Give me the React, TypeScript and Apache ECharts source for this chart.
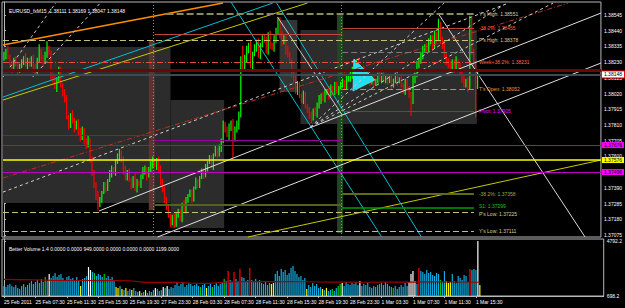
import React, { useEffect, useRef } from 'react';
import * as echarts from 'echarts';

const FONT = "'Liberation Sans', Arial, sans-serif";

// ---- price data (pips above BASE_PRICE) ----
const BASE_PRICE = 1.37;
const PIP = 0.0001;
const FIRST_OPEN = 126;
const CLOSE = [
  128,131,126,123,119,124,122,118,120,
  123,126,121,124,122,126,119,116,
  124,131,126,123,128,132,
  130,114,111,106,
  112,118,108,103,98,
  86,81,88,84,79,83,76,
  72,78,70,68,71,
  58,50,41,34,28,
  31,36,41,39,44,
  48,52,50,56,59,
  63,58,51,46,
  50,44,41,46,39,43,
  41,46,50,52,47,51,
  54,56,54,58,52,
  44,38,32,26,21,
  16,19,14,21,
  23,19,28,24,31,
  34,36,32,39,43,
  41,46,50,48,52,
  56,59,54,61,64,
  61,66,71,81,78,
  74,79,83,72,78,
  81,88,124,119,
  126,131,134,121,128,
  132,136,128,134,139,
  138,131,141,134,132,
  138,144,151,141,
  136,139,131,128,124,
  116,111,104,108,101,
  98,101,94,91,88,
  86,91,88,94,98,
  101,98,103,104,101,
  106,103,108,104,106,
  108,110,107,111,112,
  114,118,121,123,119,
  116,118,114,111,114,
  110,112,108,111,114,
  112,115,111,113,110,
  112,108,111,114,110,
  112,108,104,110,106,
  101,98,111,114,121,
  124,128,131,134,132,
  136,139,134,141,138,
  148,138,134,128,124,
  121,118,123,119,124,
  121,116,112,108,111,
  106,150,130,122,111,115,
];
const UP_WICK = [
  2,1,3,2,1,2,3,1,2,2, 1,3,2,2,1,2,3,2,4,1, 2,2,5,2,1,2,3,1,2,2, 1,2,3,2,1,3,2,1,2,3,
  2,1,2,3,1,2,1,2,3,2, 1,2,2,1,3,2,1,2,3,2, 1,2,3,1,2,2,1,3,2,1, 2,3,2,1,2,3,4,2,1,2,
  2,1,2,1,2,1,2,3,1,2, 2,1,3,2,1,2,2,1,3,2, 1,2,2,3,1,2,2,1,3,2, 2,1,3,2,2,3,1,2,2,3,
  2,3,10,2,3,2,4,2,3,2, 3,2,2,3,2,2,3,2,3,2, 2,2,3,2,2,3,2,1,2,3, 2,2,1,3,2,1,2,2,1,2,
  2,3,1,2,2,1,3,2,1,2, 2,1,2,2,1,3,2,3,2,4, 2,3,2,1,2,3,2,1,2,2, 1,2,3,1,2,2,1,2,3,1,
  2,2,1,3,1,2,2,1,2,3, 2,3,2,2,3,1,2,3,2,2, 3,2,4,2,2,3,1,2,3,2, 2,3,1,2,2,3,1,2,4,3,
  2,2,2,
];
const DN_WICK = [
  2,3,1,2,3,1,2,3,2,1, 2,1,3,2,2,3,1,2,1,2, 3,1,2,2,3,2,1,3,2,2, 3,2,1,3,2,2,3,1,2,2,
  1,2,3,2,2,3,2,3,4,2, 2,1,3,2,1,2,2,3,1,2, 2,3,2,2,1,3,2,2,3,1, 2,1,2,3,1,2,2,1,3,2,
  3,2,3,2,2,3,2,2,1,2, 2,3,1,2,2,1,3,2,1,2, 2,1,3,2,2,1,2,3,1,2, 1,3,2,2,1,3,2,13,2,2,
  3,2,2,1,3,2,2,3,1,2, 2,3,1,2,2,3,2,1,2,2, 3,2,2,1,3,2,2,3,2,2, 3,2,2,3,2,2,3,4,2,1,
  2,2,3,1,2,2,3,1,2,2, 2,3,1,2,2,2,1,2,2,3, 2,1,3,2,2,1,2,3,2,2, 1,2,2,3,1,2,2,1,3,2,
  2,3,1,2,2,3,2,2,11,3, 2,1,2,2,3,1,2,2,1,3, 2,2,1,3,2,2,3,2,1,2, 3,2,2,1,3,2,2,3,1,2,
  2,25,6,
];

// ---- volume data ----
const VOLUME = [
  870,785,955,1040,880,790,960,700,615,870,1050,780,960,1130,
  1300,1045,1220,1390,1135,
  1480,1215,1655,
  1310,1915,
  1565,1740,2005,1650,1830,1915,1570,
  1390,1650,1745,1480,1560,1305,1655,1395,
  870,1475,1570,1740,
  2525,2260,2090,
  2000,1740,1915,
  1830,1650,1920,1565,1745,
  1480,1650,1305,
  780,700,870,610,
  520,700,435,610,520,700,435,
  350,435,260,350,520,260,435,350,
  520,700,610,435,520,
  785,700,870,610,785,700,
  960,1130,870,1045,1220,785,960,1130,1045,870,960,
  1045,870,785,960,1130,700,870,1045,785,960,
  1130,870,1045,1220,
  1480,1305,
  2175,1390,1220,2090,
  1480,1305,
  2350,1650,1565,
  1220,1390,
  2435,
  1390,1305,1480,1220,1390,1130,1045,1220,960,1130,
  1045,1130,
  1915,2175,1740,2350,2090,2260,1830,2000,2435,2610,2175,1915,1650,1740,
  1390,1565,610,
  960,785,1130,870,1045,700,
  785,610,520,700,435,520,
  610,435,700,870,1045,
  1130,870,1220,1045,960,
  1130,1045,1220,960,1305,
  870,1045,960,1130,785,700,870,785,960,1045,1130,960,1220,1045,870,
  785,700,870,610,785,
  960,785,1130,870,1220,
  1915,2175,1305,
  1045,
  2435,
  2175,2090,1915,2260,2000,2090,1830,1740,2000,1915,
  1390,1220,2175,1305,1130,
  1220,1915,1305,1130,1740,
  1565,1390,1830,1740,1220,
  2350,2260,2350,2260,4792,949,
];
const VOLUME_TYPE =
  'bbbbbbbbbbbbbb' + 'bbbbb' + 'bbg' + 'bw' + 'bbbbbbb' + 'bbbbbbbb' + 'ybbb' + 'wwb' + 'gbb' +
  'bbgbb' + 'bbb' + 'yyby' + 'bybbybb' + 'bybbybbb' + 'bwbbb' + 'wbwbbb' + 'bbbbbbbbbbb' +
  'bbgbbybbgb' + 'bbbb' + 'gb' + 'rbbr' + 'bb' + 'rbb' + 'bb' + 'r' + 'bbbbbbbbbb' + 'yy' +
  'bbbbbbbbbbbbbb' + 'bby' + 'bbbbbb' + 'bybybb' + 'gbbgg' + 'wbbbb' + 'bbbbw' +
  'bbbbbbbbbbbbbbb' + 'bgbbb' + 'bbbbw' + 'www' + 'b' + 'r' + 'bbbbbbbbbb' + 'gbbyy' +
  'ybbbb' + 'bbbbb' + 'rbbbwy';
const VOL_MA_BARS = [0,8,16,24,32,40,48,56,64,72,80,88,96,104,112,120,128,136,144,152,160,168,176,184,192,200,208,216,224,232,240,242];
const VOL_MA = [1450,1430,1400,1370,1350,1350,1345,1340,1330,1190,1185,1180,1110,1105,1200,1245,1250,1245,1250,1240,1220,1210,1205,1200,1210,1215,1210,1230,1235,1220,1200,1199];

// ---- axes ----
const SLOT_MIN = -1;
const SLOT_MAX = 305;
const PRICE_MIN = 1.37062;
const PRICE_MAX = 1.38632;
const PRICE_TICKS = [1.38545,1.3844,1.38335,1.3823,1.38125,1.3802,1.37915,1.3781,1.37705,1.376,1.37495,1.3739,1.37285,1.3718,1.37075];
const VOL_MAX = 4966;
const VOL_TICKS = [4792.2, 0];
const VOL_TICK_TEXT = ['4792.2', '698.2'];
const TIME_STEP = 16;
const TIME_LABELS = ['25 Feb 2011','25 Feb 07:30','25 Feb 11:30','25 Feb 15:30','25 Feb 19:30','27 Feb 23:30','28 Feb 03:30','28 Feb 07:30','28 Feb 11:30','28 Feb 15:30','28 Feb 19:30','28 Feb 23:30','1 Mar 03:30','1 Mar 07:30','1 Mar 11:30','1 Mar 15:30'];

// ---- chart objects (bar index, price) ----
const ZONES: Array<[number, number, number, number]> = [
  [-0.5, 1.38331, 85.1, 1.37289],
  [85.1, 1.37977, 112.5, 1.37122],
  [140.8, 1.38511, 149.9, 1.3803],
  [151.5, 1.38445, 241.6, 1.37817],
  [74, 1.38378, 77, 1.37242],
  [170.2, 1.38545, 173.3, 1.37089],
];
const ZONE_COLORS = ['#2c2c2c', '#2c2c2c', '#343434', '#2c2c2c', '#5c3530', '#1f4a1f'];

const LEVELS: Array<[number, number, number, string]> = [
  [1.38551, 83.1, 240.1, "Y's High: 1.38551"],
  [1.38418, 77, 172.8, ''],
  [1.38455, 172.8, 240.1, '-38.2%: 1.38455'],
  [1.38378, -0.5, 240.1, "P's High: 1.38378"],
  [1.38231, -0.5, 240.1, 'Week+38.2%: 1.38231'],
  [1.38298, 172.8, 240.1, ''],
  [1.38177, -0.5, 305, ''],
  [1.38148, -0.5, 305, '1.38148'],
  [1.38052, 172.8, 240.1, "T's Open: 1.38052"],
  [1.37905, 172.8, 240.1, 'Pivot: 1.37905'],
  [1.37743, -0.5, 77, ''],
  [1.3771, 77, 172.8, ''],
  [1.37676, -0.5, 305, '1.37676'],
  [1.37576, -0.5, 305, '1.37576'],
  [1.37496, -0.5, 305, '1.37496'],
  [1.37349, 172.8, 240.1, '-38.2%: 1.37358'],
  [1.37276, 77, 172.8, ''],
  [1.37256, 172.8, 240.1, 'S1: 1.37299'],
  [1.37229, -0.5, 240.1, "P's Low: 1.37225"],
  [1.37102, -0.5, 240.1, "Y's Low: 1.37111"],
];
const LEVEL_STYLES: any[] = [
  { color: '#8a8a62', type: [7, 3], width: 2, text: '#d8d8a0' },
  { color: '#c0483a', type: 'solid', width: 1 },
  { color: '#c0483a', type: 'solid', width: 1, text: '#ff5a3c' },
  { color: '#c8c07a', type: [6, 3], width: 1, text: '#d8d090' },
  { color: '#e0503c', type: [6, 2, 1, 2], width: 1, text: '#ff6a4a' },
  { color: '#7a7a7a', type: [6, 3], width: 1 },
  { color: '#640a0a', type: 'solid', width: 3 },
  { color: '#3e4a52', type: 'solid', width: 2, box: '#ffffff', boxText: '#000000', boxBorder: '#ff0000' },
  { color: '#d88c2c', type: [6, 3], width: 1, text: '#e89a3a' },
  { color: '#c000c0', type: 'solid', width: 1, text: '#ff00ff' },
  { color: '#9a009a', type: 'solid', width: 1 },
  { color: '#9a009a', type: 'solid', width: 1 },
  { color: '#b000b0', type: 'solid', width: 1, box: '#ff00ff', boxText: '#000000' },
  { color: '#ffff00', type: 'solid', width: 1.5, box: '#ffff00', boxText: '#000000' },
  { color: '#c000c0', type: 'solid', width: 1, box: '#ff00ff', boxText: '#000000' },
  { color: '#5f6a1c', type: 'solid', width: 2, text: '#a0a848' },
  { color: '#55621a', type: 'solid', width: 2 },
  { color: '#00a000', type: 'solid', width: 1.5, text: '#20c020', dy: -2 },
  { color: '#c8c07a', type: [6, 3], width: 1, text: '#d8d090', dy: 2 },
  { color: '#c8c07a', type: [6, 3], width: 1, text: '#d8d090' },
];

const TRENDLINES: Array<[number, number, number, number]> = [
  [-0.5, 1.38344, 111.9, 1.38625],
  [-0.5, 1.37997, 137.3, 1.38625],
  [-0.5, 1.37977, 155.0, 1.38625],
  [124.6, 1.37062, 305, 1.37576],
  [116.0, 1.38632, 193.0, 1.37062],
  [139.3, 1.38625, 213.3, 1.37062],
  [222.4, 1.38545, 296.9, 1.37062],
  [139.8, 1.38531, 172.8, 1.37877],
  [48.6, 1.37236, 305, 1.38558],
  [78.5, 1.37062, 305, 1.38224],
  [-0.5, 1.37362, 257.9, 1.38625],
  [-0.5, 1.37456, 288.3, 1.38625],
  [156.6, 1.37797, 224.9, 1.38625],
  [156.6, 1.37797, 255.3, 1.38612],
  [156.6, 1.37797, 280.6, 1.38625],
  [-0.5, 1.38131, 26.4, 1.38625],
  [14.7, 1.38131, 49.2, 1.38625],
];
const TRENDLINE_STYLES: any[] = [
  { color: '#ff8c00', type: 'solid', width: 1.5 },
  { color: '#00c0d0', type: 'solid', width: 1 },
  { color: '#c8c800', type: 'solid', width: 1 },
  { color: '#c8c800', type: 'solid', width: 1 },
  { color: '#00c0d0', type: 'solid', width: 1 },
  { color: '#00c0d0', type: 'solid', width: 1 },
  { color: '#d8d8d8', type: 'solid', width: 1 },
  { color: '#c8c8c8', type: 'solid', width: 1 },
  { color: '#e0e0e0', type: 'solid', width: 1 },
  { color: '#e0e0e0', type: 'solid', width: 1 },
  { color: '#d0d0d0', type: [3, 3], width: 1 },
  { color: '#c03020', type: [5, 2, 1, 2], width: 1 },
  { color: '#c8c8c8', type: [3, 3], width: 1 },
  { color: '#c8c8c8', type: [3, 3], width: 1 },
  { color: '#c8c8c8', type: [3, 3], width: 1 },
  { color: '#c8c8c8', type: [3, 3], width: 1 },
  { color: '#c8c8c8', type: [3, 3], width: 1 },
];
const SEPARATORS = [76.5, 172.3];
const TRIANGLE: Array<[number, number]> = [[178.8, 1.38251], [178.3, 1.38037], [189.5, 1.38111]];

const VOL_PALETTE: Record<string, string> = { b: '#10ace0', y: '#ffff00', g: '#00c800', r: '#ff0000', w: '#ffffff' };

export default function App() {
  const ref = useRef<HTMLDivElement>(null);
  useEffect(() => {
    if (!ref.current) return;
    const chart = echarts.init(ref.current, null, { renderer: 'svg' });

    const candles = CLOSE.map((c, i) => {
      const o = i === 0 ? FIRST_OPEN : CLOSE[i - 1];
      const h = Math.max(o, c) + UP_WICK[i];
      const l = Math.min(o, c) - DN_WICK[i];
      return [i, BASE_PRICE + o * PIP, BASE_PRICE + c * PIP, BASE_PRICE + l * PIP, BASE_PRICE + h * PIP];
    });
    const volumes = VOLUME.map((v, i) => [i, v]);

    const levelLines = LEVELS.map(([p, a, b, t], k) => {
      const s = LEVEL_STYLES[k];
      let label: any = { show: false };
      if (t && s.box) {
        label = {
          show: true, position: 'end', distance: 1, formatter: t, color: s.boxText,
          backgroundColor: s.box, borderColor: s.boxBorder || s.box, borderWidth: s.boxBorder ? 1 : 0,
          padding: [0, 2, 0, 2], fontSize: 5, lineHeight: 6, fontFamily: FONT,
        };
      } else if (t) {
        label = {
          show: true, position: 'end', distance: 5, formatter: t, color: s.text, fontSize: 5,
          fontFamily: FONT, offset: [0, s.dy || 0],
        };
      }
      return [
        { coord: [a, p], lineStyle: { color: s.color, type: s.type, width: s.width }, label },
        { coord: [b, p] },
      ];
    });
    const trendLines = TRENDLINES.map(([x1, p1, x2, p2], k) => {
      const s = TRENDLINE_STYLES[k];
      return [
        { coord: [x1, p1], lineStyle: { color: s.color, type: s.type, width: s.width }, label: { show: false } },
        { coord: [x2, p2] },
      ];
    });
    const sepLines = SEPARATORS.map((x) => [
      { coord: [x, PRICE_MAX], lineStyle: { color: '#8a8a8a', type: [1, 2], width: 1 }, label: { show: false } },
      { coord: [x, PRICE_MIN] },
    ]);

    const option: any = {
      animation: false,
      backgroundColor: '#000000',
      title: [
        {
          text: 'EURUSD_fxM15  1.38111 1.38169 1.38047 1.38148', left: 4, top: 3,
          textStyle: { color: '#ffffff', fontSize: 5, fontWeight: 'normal', fontFamily: FONT },
        },
        {
          text: 'Better Volume 1.4 0.0000 0.0000 949.0000 0.0000 0.0000 0.0000 1199.0000', left: 4, top: 241,
          textStyle: { color: '#ffffff', fontSize: 5, fontWeight: 'normal', fontFamily: FONT },
        },
      ],
      grid: [
        { left: 2, top: 2, width: 604, height: 235, show: true, borderColor: '#b8b8b8', borderWidth: 1, backgroundColor: 'transparent' },
        { left: 2, top: 239, width: 604, height: 57, show: true, borderColor: '#b8b8b8', borderWidth: 1, backgroundColor: 'transparent' },
      ],
      xAxis: [
        { type: 'value', gridIndex: 0, min: SLOT_MIN, max: SLOT_MAX, show: false },
        {
          type: 'value', gridIndex: 1, min: SLOT_MIN, max: SLOT_MAX, position: 'bottom',
          axisLine: { show: true, lineStyle: { color: '#b8b8b8' } },
          splitLine: { show: false },
          axisTick: { show: true, length: 2, customValues: TIME_LABELS.map((_, k) => k * TIME_STEP), lineStyle: { color: '#b8b8b8' } },
          axisLabel: {
            customValues: TIME_LABELS.map((_, k) => k * TIME_STEP),
            formatter: (v: number) => TIME_LABELS[Math.round(v / TIME_STEP)] || '',
            color: '#ffffff', fontSize: 5, fontFamily: FONT, align: 'left', margin: 3,
          },
        },
      ],
      yAxis: [
        {
          type: 'value', gridIndex: 0, position: 'right', min: PRICE_MIN, max: PRICE_MAX,
          splitLine: { show: false },
          axisLine: { show: true, lineStyle: { color: '#b8b8b8' } },
          axisTick: { show: true, length: 2, customValues: PRICE_TICKS, lineStyle: { color: '#b8b8b8' } },
          axisLabel: { customValues: PRICE_TICKS, formatter: (v: number) => v.toFixed(5), color: '#ffffff', fontSize: 5, fontFamily: FONT, margin: 3 },
        },
        {
          type: 'value', gridIndex: 1, position: 'right', min: 0, max: VOL_MAX,
          splitLine: { show: false },
          axisLine: { show: true, lineStyle: { color: '#b8b8b8' } },
          axisTick: { show: true, length: 2, customValues: VOL_TICKS, lineStyle: { color: '#b8b8b8' } },
          axisLabel: {
            customValues: VOL_TICKS,
            formatter: (v: number) => VOL_TICK_TEXT[VOL_TICKS.indexOf(v)] ?? '',
            color: '#ffffff', fontSize: 5, fontFamily: FONT, margin: 3,
          },
        },
      ],
      series: [
        {
          type: 'line', xAxisIndex: 0, yAxisIndex: 0, data: [], z: 1, silent: true,
          markArea: {
            silent: true,
            data: ZONES.map(([x1, p1, x2, p2], k) => [
              { coord: [x1, p1], itemStyle: { color: ZONE_COLORS[k] } },
              { coord: [x2, p2] },
            ]),
          },
        },
        {
          type: 'custom', xAxisIndex: 0, yAxisIndex: 0, z: 3, clip: true,
          data: candles,
          encode: { x: 0, y: [1, 2, 3, 4] },
          renderItem: (_p: any, api: any) => {
            const x = api.value(0);
            const o = api.value(1);
            const c = api.value(2);
            const top = api.coord([x, api.value(4)]);
            const bot = api.coord([x, api.value(3)]);
            return {
              type: 'rect',
              shape: { x: top[0] - 0.6, y: top[1], width: 1.2, height: Math.max(1, bot[1] - top[1]) },
              style: { fill: c >= o ? '#00ff00' : '#ff0000' },
            };
          },
        },
        {
          type: 'custom', xAxisIndex: 0, yAxisIndex: 0, z: 4, data: [0],
          renderItem: (_p: any, api: any) => ({
            type: 'polygon',
            shape: { points: TRIANGLE.map((pt) => api.coord(pt)) },
            style: { fill: '#20e0f0', stroke: '#a0ffff', lineWidth: 0.5 },
          }),
        },
        {
          type: 'line', xAxisIndex: 0, yAxisIndex: 0, data: [], z: 5, silent: true,
          markLine: {
            silent: true, symbol: ['none', 'none'], animation: false,
            label: { show: false },
            data: [...sepLines, ...trendLines, ...levelLines],
          },
        },
        {
          type: 'custom', xAxisIndex: 1, yAxisIndex: 1, z: 2, clip: true,
          data: volumes,
          encode: { x: 0, y: 1 },
          renderItem: (p: any, api: any) => {
            const i = api.value(0);
            const top = api.coord([i, api.value(1)]);
            const base = api.coord([i, 0]);
            return {
              type: 'rect',
              shape: { x: top[0] - 0.6, y: top[1], width: 1.2, height: base[1] - top[1] },
              style: { fill: VOL_PALETTE[VOLUME_TYPE[p.dataIndex] || 'b'] },
            };
          },
        },
        {
          type: 'line', xAxisIndex: 1, yAxisIndex: 1, z: 3, symbol: 'none', silent: true,
          data: VOL_MA_BARS.map((b, k) => [b, VOL_MA[k]]),
          lineStyle: { color: '#9a0000', width: 1.2 },
        },
      ],
    };
    chart.setOption(option);
    return () => chart.dispose();
  }, []);
  return (
    <div
      ref={ref}
      style={{ position: 'fixed', left: 0, top: 0, width: 625, height: 308, background: '#000' }}
    />
  );
}
